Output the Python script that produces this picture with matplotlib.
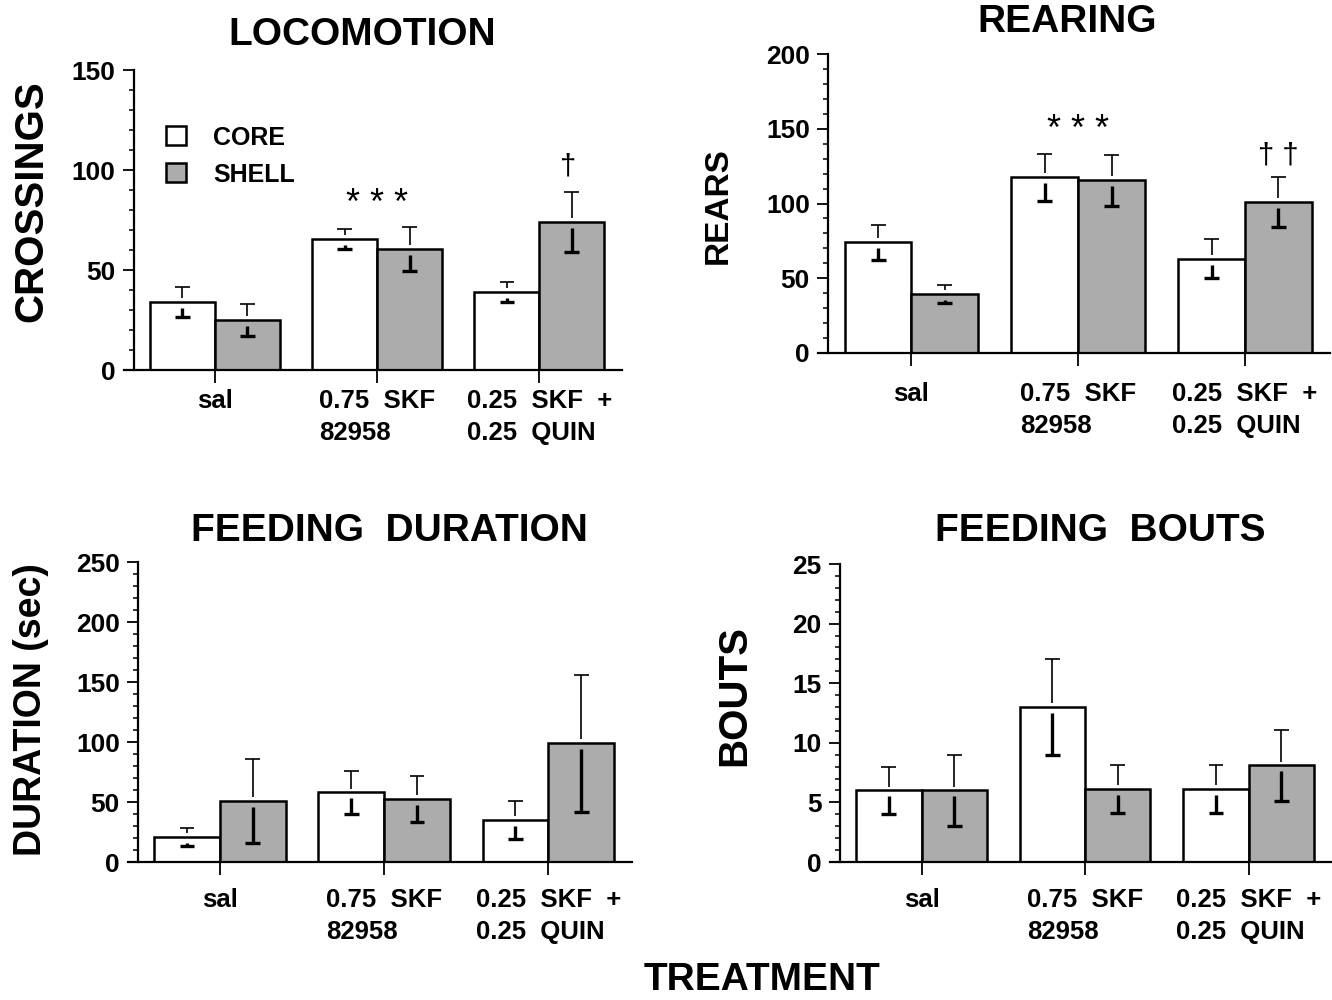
import numpy as np
import matplotlib
matplotlib.use("Agg")
import matplotlib.pyplot as plt
from matplotlib.patches import Patch
from matplotlib.ticker import MultipleLocator

plt.rcParams['font.family'] = ['Liberation Sans', 'DejaVu Sans']
plt.rcParams['font.weight'] = 'bold'

grupos = ["sal", "0.75  SKF\n82958", "0.25  SKF  +\n0.25  QUIN"]

loco_core = [34, 65.5, 39]
loco_core_err = [7.5, 5, 5]
loco_shell = [25, 60.5, 74]
loco_shell_err = [8, 11, 15]

rear_core = [74, 117.5, 63]
rear_core_err = [11.5, 15.5, 13]
rear_shell = [39.5, 115.5, 101]
rear_shell_err = [6, 17, 17]

dur_core = [21, 58, 35]
dur_core_err = [7.5, 18, 16]
dur_shell = [51, 52.5, 99]
dur_shell_err = [35, 19.5, 57]

bouts_core = [6, 13, 6.1]
bouts_core_err = [2, 4, 2]
bouts_shell = [6, 6.1, 8.1]
bouts_shell_err = [3, 2, 3]

GRIS = '#acacac'


def panel(ax, core, core_err, shell, shell_err, ymax, mayor, menor, pad):
    x = np.arange(len(grupos))
    ancho = 0.4
    ax.bar(x - ancho / 2, core, ancho, color='white', edgecolor='black', linewidth=1.8)
    ax.bar(x + ancho / 2, shell, ancho, color=GRIS, edgecolor='black', linewidth=1.8)

    gap_up = 0.013 * ymax
    gap_dn = 0.02 * ymax
    cap = 0.045
    for xs, vals, errs in [(x - ancho / 2, core, core_err), (x + ancho / 2, shell, shell_err)]:
        for xi, v, e in zip(xs, vals, errs):
            ax.vlines(xi, v + gap_up, v + e, color='black', linewidth=1.2)
            ax.hlines(v + e, xi - cap, xi + cap, color='black', linewidth=1.2)
            ax.vlines(xi, v - e, v - gap_dn, color='black', linewidth=2.4)
            ax.hlines(v - e, xi - cap, xi + cap, color='black', linewidth=2.4)

    ax.set_xlim(-0.56, 2.51)
    ax.set_ylim(0, ymax)
    for s in ['top', 'right']:
        ax.spines[s].set_visible(False)
    ax.spines['left'].set_position(('data', -0.5))
    ax.spines['left'].set_linewidth(1.6)
    ax.spines['bottom'].set_linewidth(1.6)

    ax.yaxis.set_major_locator(MultipleLocator(mayor))
    ax.yaxis.set_minor_locator(MultipleLocator(menor))
    ax.tick_params(axis='y', which='major', length=8, width=1.3, pad=5, labelsize=19)
    ax.tick_params(axis='y', which='minor', length=3.5, width=1.1)
    ax.set_xticks(x)
    ax.set_xticklabels(grupos, ma='left', linespacing=1.4)
    ax.tick_params(axis='x', length=9, width=1.3, pad=pad, labelsize=18.5)
    for t in ax.get_yticklabels():
        t.set_fontweight('bold')


fig = plt.figure(figsize=(13.32, 10), dpi=100)

ax1 = fig.add_axes([0.0931, 0.630, 0.3739, 0.300])
panel(ax1, loco_core, loco_core_err, loco_shell, loco_shell_err, 150, 50, 10, 5)
ax1.text(1, 83, "* * *", ha='center', va='center', fontsize=26, fontweight='normal')
ax1.text(2.17, 102, "\u2020", ha='center', va='center', fontsize=21, fontweight='normal')
ax1.legend(handles=[Patch(facecolor='white', edgecolor='black', linewidth=1.8, label='CORE'),
                    Patch(facecolor=GRIS, edgecolor='black', linewidth=1.8, label='SHELL')],
           loc='upper left', bbox_to_anchor=(0.084, 0.815), frameon=False, fontsize=18,
           handlelength=0.8, handleheight=0.8, handletextpad=1.1, labelspacing=0.52,
           borderpad=0, borderaxespad=0)

ax2 = fig.add_axes([0.6141, 0.647, 0.3844, 0.299])
panel(ax2, rear_core, rear_core_err, rear_shell, rear_shell_err, 200, 50, 10, 12)
ax2.text(1, 149, "* * *", ha='center', va='center', fontsize=26, fontweight='normal')
ax2.text(2.2, 132, "\u2020 \u2020", ha='center', va='center', fontsize=21, fontweight='normal')

ax3 = fig.add_axes([0.0961, 0.138, 0.3784, 0.300])
panel(ax3, dur_core, dur_core_err, dur_shell, dur_shell_err, 250, 50, 10, 10)

ax4 = fig.add_axes([0.6231, 0.138, 0.3769, 0.298])
panel(ax4, bouts_core, bouts_core_err, bouts_shell, bouts_shell_err, 25, 5, 1, 10)

fig.text(362 / 1332, 1 - 35 / 1000, "LOCOMOTION", ha='center', va='center', fontsize=28)
fig.text(1067 / 1332, 1 - 22 / 1000, "REARING", ha='center', va='center', fontsize=28)
fig.text(389 / 1332, 1 - 531 / 1000, "FEEDING  DURATION", ha='center', va='center', fontsize=28)
fig.text(1100 / 1332, 1 - 531 / 1000, "FEEDING  BOUTS", ha='center', va='center', fontsize=28)
fig.text(762 / 1332, 1 - 980 / 1000, "TREATMENT", ha='center', va='center', fontsize=28)

fig.text(31 / 1332, 1 - 201 / 1000, "CROSSINGS", ha='center', va='center', rotation=90, fontsize=29)
fig.text(718 / 1332, 1 - 206 / 1000, "REARS", ha='center', va='center', rotation=90, fontsize=24)
fig.text(31 / 1332, 1 - 710 / 1000, "DURATION (sec)", ha='center', va='center', rotation=90, fontsize=27)
fig.text(734 / 1332, 1 - 695 / 1000, "BOUTS", ha='center', va='center', rotation=90, fontsize=29)

fig.savefig("out.png", dpi=100)
